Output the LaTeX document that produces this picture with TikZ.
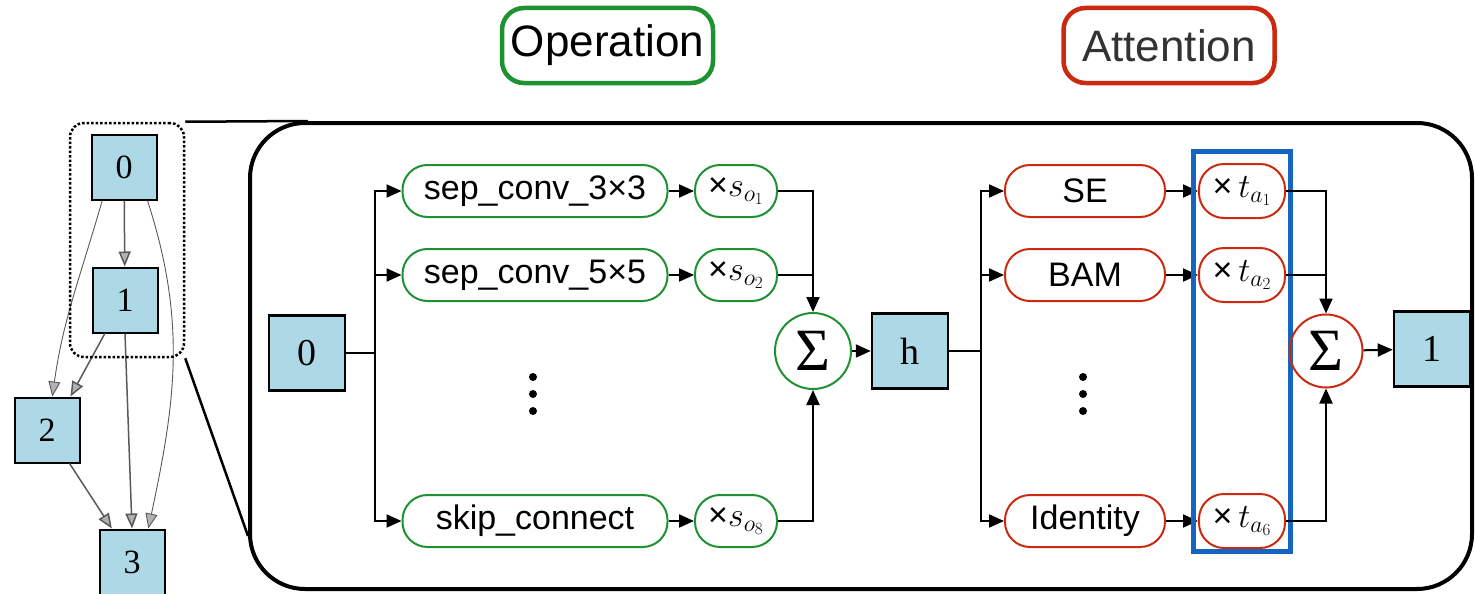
\RequirePackage{fix-cm}
\documentclass[tikz,border=0pt]{standalone}
\usepackage{fontspec}
\setmainfont{Liberation Serif}
\setsansfont{Liberation Sans}
\usetikzlibrary{arrows.meta, positioning, calc}
\definecolor{opgreen}{HTML}{1E9130}
\definecolor{attred}{HTML}{CC2A10}
\definecolor{cellblue}{HTML}{ADD8E6}
\definecolor{selblue}{HTML}{1565C0}
\definecolor{labelgray}{HTML}{333333}

\begin{document}
\begin{tikzpicture}[x=1pt, y=1pt,
    cell/.style={draw=black, line width=2.5pt, fill=cellblue, minimum width=76pt, minimum height=75pt, inner sep=0pt, font=\fontsize{38}{40}\selectfont},
    smallcell/.style={cell, line width=2pt, minimum width=65pt, minimum height=65pt, font=\fontsize{34}{36}\selectfont},
    opbox/.style={draw=opgreen, line width=2pt, rounded corners=25pt, minimum height=52pt, inner sep=0pt, font=\sffamily\fontsize{34}{36}\selectfont},
    attbox/.style={opbox, draw=attred},
    sumnode/.style={circle, draw=opgreen, line width=2pt, minimum size=76pt, inner sep=0pt, font=\fontsize{60}{60}\selectfont},
    tagbox/.style={line width=4.5pt, rounded corners=22pt, minimum width=211pt, minimum height=75pt, inner sep=0pt, font=\sffamily\fontsize{44}{46}\selectfont},
    branch/.style={line width=2pt, -{Triangle[length=15pt, width=13pt]}},
    link/.style={line width=2pt},
    dagedge/.style={draw=black!65, line width=1.5pt, -{Triangle[length=15pt, width=12pt, fill=black!30]}},
    dot/.style={circle, fill=black, minimum size=8pt, inner sep=0pt}
  ]
  \useasboundingbox (0,0) rectangle (1475,-594);

  % headings
  \node[tagbox, draw=opgreen] (optag) at (607.5,-45.5) {Operation};
  \node[tagbox, draw=attred, text=labelgray] (atttag) at (1169,-45.5) {Attention};

  % cell graph on the left
  \node[smallcell] (g0) at (124,-167) {0};
  \node[smallcell] (g1) at (125,-300) {1};
  \node[smallcell] (g2) at (47,-430) {2};
  \node[smallcell] (g3) at (132,-562) {3};
  \draw[dagedge] (g0) -- (g1);
  \draw[dagedge, line width=0.9pt] (g0.237) to[out=-106, in=82] (g2.81);
  \draw[dagedge] (g1.239) -- (g2.55);
  \draw[dagedge, line width=0.9pt] (g0.-55) to[out=-72, in=78] (g3.64);
  \draw[dagedge] (g1.south) -- (g3.north);
  \draw[dagedge] (g2.-56) -- (g3.121);
  \node[draw, dotted, line width=2.5pt, rounded corners=14pt, minimum width=114pt, minimum height=234pt] (zoom) at (127,-240) {};

  % expanded edge
  \node[draw, line width=4pt, rounded corners=55pt, minimum width=1222pt, minimum height=466pt] (cellbox) at (861,-356) {};
  \draw[line width=2.5pt] (zoom.north east) -- ($(cellbox.north west)+(60,0)$);
  \draw[line width=2.5pt] (zoom.south east) -- ($(cellbox.south west)+(0,55)$);

  % operation part
  \node[cell] (in0) at (307,-353) {0};
  \node[opbox, minimum width=265pt] (sep3) at (535,-191) {sep\_conv\_3×3};
  \node[opbox, minimum width=265pt] (sep5) at (535,-275) {sep\_conv\_5×5};
  \node[opbox, minimum width=265pt] (skip) at (535,-521) {skip\_connect};
  \node[opbox, minimum width=82pt] (s1) at (736,-191) {×$s_{o_1}$};
  \node[opbox, minimum width=82pt] (s2) at (736,-275) {×$s_{o_2}$};
  \node[opbox, minimum width=82pt] (s8) at (736,-521) {×$s_{o_8}$};
  \foreach \y in {377,394,411}
    \node[dot] at (533,-\y) {};
  \coordinate (split1) at (375,-353);
  \draw[link] (in0.east) -- (split1);
  \draw[branch] (split1) |- (sep3.west);
  \draw[branch] (split1) |- (sep5.west);
  \draw[branch] (split1) |- (skip.west);
  \draw[branch] (sep3) -- (s1);
  \draw[branch] (sep5) -- (s2);
  \draw[branch] (skip) -- (s8);
  \node[sumnode] (sum1) at (813,-351) {Σ};
  \draw[branch] (s1.east) -| (sum1.north);
  \draw[link] (s2.east) -- (s2.east -| sum1.north);
  \draw[branch] (s8.east) -| (sum1.south);
  \node[cell] (h) at (910,-351) {h};
  \draw[branch] (sum1) -- (h);

  % attention part
  \node[attbox, minimum width=160pt] (se) at (1085,-191) {SE};
  \node[attbox, minimum width=160pt] (bam) at (1085,-275) {BAM};
  \node[attbox, minimum width=160pt] (ident) at (1085,-521) {Identity};
  \foreach \y in {377,394,411}
    \node[dot] at (1083,-\y) {};
  \node[attbox, minimum width=86pt, minimum height=54pt] (t1) at (1242,-191) {×\,$t_{a_1}$};
  \node[attbox, minimum width=86pt, minimum height=54pt] (t2) at (1242,-275) {×\,$t_{a_2}$};
  \node[attbox, minimum width=86pt, minimum height=54pt] (t6) at (1242,-521) {×\,$t_{a_6}$};
  \coordinate (split2) at (981,-351);
  \draw[link] (h.east) -- (split2);
  \draw[branch] (split2) |- (se.west);
  \draw[branch] (split2) |- (bam.west);
  \draw[branch] (split2) |- (ident.west);
  \draw[branch] (se) -- (t1);
  \draw[branch] (bam) -- (t2);
  \draw[branch] (ident) -- (t6);
  \node[draw=selblue, line width=5pt, minimum width=97pt, minimum height=400pt] (sel) at (1241.5,-351) {};
  \node[sumnode, draw=attred, minimum size=73pt] (sum2) at (1326,-351) {Σ};
  \draw[branch] (t1.east) -| (sum2.north);
  \draw[link] (t2.east) -- (t2.east -| sum2.north);
  \draw[branch] (t6.east) -| (sum2.south);
  \node[cell] (out1) at (1432,-349) {1};
  \draw[branch] (sum2) -- (out1);
\end{tikzpicture}
\end{document}
